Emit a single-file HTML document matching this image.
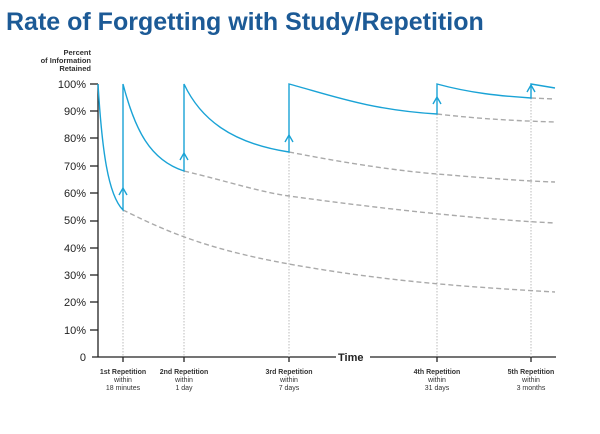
<!DOCTYPE html>
<html><head><style>
body{margin:0;background:#fff;width:600px;height:429px;overflow:hidden}
</style></head><body>
<svg width="600" height="429" xmlns="http://www.w3.org/2000/svg" font-family="Liberation Sans, sans-serif">
<text x="6" y="30" font-size="25" font-weight="bold" fill="#1c5a96">Rate of Forgetting with Study/Repetition</text>
<g font-size="7.5" fill="#333" text-anchor="end" font-weight="bold">
<text x="91" y="55">Percent</text><text x="91" y="63">of Information</text><text x="91" y="71">Retained</text>
</g>
<g font-size="11" fill="#222" text-anchor="end">
<text x="86" y="88">100%</text><text x="86" y="115">90%</text><text x="86" y="142">80%</text><text x="86" y="170">70%</text><text x="86" y="197">60%</text><text x="86" y="224">50%</text><text x="86" y="252">40%</text><text x="86" y="279">30%</text><text x="86" y="306">20%</text><text x="86" y="334">10%</text><text x="86" y="361">0</text>
</g>
<g stroke="#222" stroke-width="1.3">
<line x1="98" y1="84" x2="98" y2="357"/>
<line x1="90" y1="84" x2="98" y2="84"/><line x1="90" y1="111" x2="98" y2="111"/><line x1="90" y1="138" x2="98" y2="138"/><line x1="90" y1="166" x2="98" y2="166"/><line x1="90" y1="193" x2="98" y2="193"/><line x1="90" y1="221" x2="98" y2="221"/><line x1="90" y1="248" x2="98" y2="248"/><line x1="90" y1="275" x2="98" y2="275"/><line x1="90" y1="302" x2="98" y2="302"/><line x1="90" y1="330" x2="98" y2="330"/>
<line x1="92" y1="357" x2="336" y2="357"/><line x1="370" y1="357" x2="556" y2="357"/>
<line x1="123" y1="357" x2="123" y2="362"/><line x1="184" y1="357" x2="184" y2="362"/><line x1="289" y1="357" x2="289" y2="362"/><line x1="437" y1="357" x2="437" y2="362"/><line x1="531" y1="357" x2="531" y2="362"/>
</g>
<text x="338" y="361" font-size="11" font-weight="bold" fill="#222">Time</text>
<g stroke="#bbb" stroke-width="1" stroke-dasharray="1.5,1.5">
<line x1="123" y1="210" x2="123" y2="357"/><line x1="184" y1="171" x2="184" y2="357"/><line x1="289" y1="152" x2="289" y2="357"/><line x1="437" y1="114" x2="437" y2="357"/><line x1="531" y1="98" x2="531" y2="357"/>
</g>
<g stroke="#aaa" stroke-width="1.4" stroke-dasharray="5,3" fill="none">
<path d="M123,210 C160,228 200,248 289,264 S450,286 555,292"/>
<path d="M184,171 C230,182 260,192 289,196 S450,218 555,223"/>
<path d="M289,152 C350,164 400,171 437,174 S520,181 555,182"/>
<path d="M437,114 C480,119 520,121 555,122"/>
<path d="M531,98 L555,99"/>
</g>
<g stroke="#1aa3d6" stroke-width="1.4" fill="none">
<path d="M98,84 C102,150 108,195 123,210 L123,84 C135,130 150,160 184,171 L184,84 C200,118 230,143 289,152 L289,84 C330,95 370,110 437,114 L437,84 C470,93 500,96 531,98 L531,84 L555,88"/>
<path d="M119,195 L123,188 L127,195 M180,160 L184,153 L188,160 M285,142 L289,135 L293,142 M433,104 L437,97 L441,104 M527,92 L531,85 L535,92"/>
</g>
<g font-size="7" fill="#333" text-anchor="middle">
<text x="123" y="374" font-weight="bold">1st Repetition</text><text x="123" y="382">within</text><text x="123" y="390">18 minutes</text>
<text x="184" y="374" font-weight="bold">2nd Repetition</text><text x="184" y="382">within</text><text x="184" y="390">1 day</text>
<text x="289" y="374" font-weight="bold">3rd Repetition</text><text x="289" y="382">within</text><text x="289" y="390">7 days</text>
<text x="437" y="374" font-weight="bold">4th Repetition</text><text x="437" y="382">within</text><text x="437" y="390">31 days</text>
<text x="531" y="374" font-weight="bold">5th Repetition</text><text x="531" y="382">within</text><text x="531" y="390">3 months</text>
</g>
</svg>
</body></html>
